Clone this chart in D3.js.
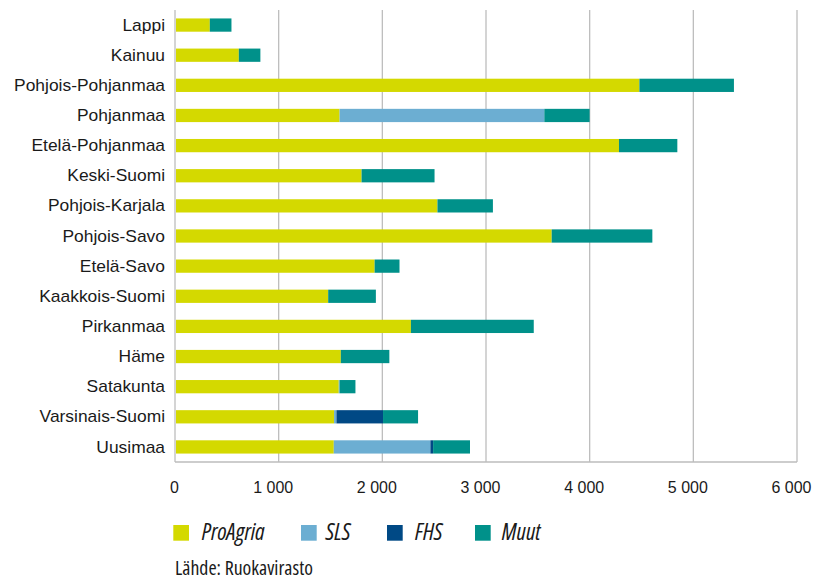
<!DOCTYPE html>
<html><head><meta charset="utf-8">
<script src="https://cdn.jsdelivr.net/npm/d3@7"></script>
<style>
body{margin:0;background:#fff;}
text{font-family:"Open Sans","DejaVu Sans Condensed",sans-serif;fill:#1a1a1a;}
</style></head>
<body><svg id="c" width="813" height="581"></svg>
<script>
const categories = ["Lappi","Kainuu","Pohjois-Pohjanmaa","Pohjanmaa","Etelä-Pohjanmaa","Keski-Suomi","Pohjois-Karjala","Pohjois-Savo","Etelä-Savo","Kaakkois-Suomi","Pirkanmaa","Häme","Satakunta","Varsinais-Suomi","Uusimaa"];
const seriesNames = ["ProAgria","SLS","FHS","Muut"];
const proAgria = [326,606,4470,1578,4273,1790,2522,3624,1916,1468,2266,1590,1570,1525,1522];
const sls      = [0,0,0,1975,0,0,0,0,0,0,0,0,8,23,932];
const fhs      = [0,0,0,0,0,0,0,0,0,0,0,0,0,449,26];
const muut     = [209,208,912,437,563,704,535,971,240,460,1185,468,153,338,356];
const tickValues = [0,1000,2000,3000,4000,5000,6000];
const sourceText = "Lähde: Ruokavirasto";
const colors = ["#d4d900","#6caed2","#004985","#00918a"];

const svg = d3.select("#c");
const pL=175, pR=797, pT=10, pB=462;
const x = d3.scaleLinear().domain([0,6000]).range([pL,pR]);
const y = d3.scaleBand().domain(categories).range([pT,pB]).paddingInner(0.56).paddingOuter(0.28);

function fit(sel, target, base){
  sel.attr("font-size",base);
  const w = sel.node().getComputedTextLength();
  return base*target/w;
}

const data = categories.map((c,i)=>({cat:c, ProAgria:proAgria[i], SLS:sls[i], FHS:fhs[i], Muut:muut[i]}));
const stacked = d3.stack().keys(seriesNames)(data);

// grid
svg.append("g").selectAll("line").data(tickValues.slice(1)).join("line")
  .attr("x1",d=>x(d)).attr("x2",d=>x(d)).attr("y1",pT).attr("y2",pB)
  .attr("stroke","#bdbdbd").attr("stroke-width",1.3);
svg.append("line").attr("x1",pL).attr("x2",pL).attr("y1",pT).attr("y2",pB).attr("stroke","#bdbdbd").attr("stroke-width",1.3);
svg.append("line").attr("x1",pL).attr("x2",pR).attr("y1",pB).attr("y2",pB).attr("stroke","#bdbdbd").attr("stroke-width",1.3);

// bars
svg.append("g").selectAll("g").data(stacked).join("g")
  .attr("fill",(d,i)=>colors[i])
  .selectAll("rect").data(d=>d).join("rect")
  .attr("x",d=>x(d[0])+1).attr("width",d=>Math.max(0,x(d[1])-x(d[0])))
  .attr("y",d=>y(d.data.cat)).attr("height",y.bandwidth());

// x axis
const xAxis = d3.axisBottom(x).tickValues(tickValues).tickSize(0).tickPadding(0)
  .tickFormat(d=>d3.format(",")(d).replace(/,/g," "));
const gx = svg.append("g").attr("transform",`translate(0,${pB})`).call(xAxis);
gx.select(".domain").remove();
const xt = gx.selectAll("text").attr("dy",null).attr("y",31)
  .style("font-family","inherit").style("font-stretch","75%");
const xfs = fit(gx.selectAll("text").filter(d=>d===6000), 40, 20);
xt.attr("font-size",xfs).attr("dx",d=>d===0?-1:-6);

// y axis
const yAxis = d3.axisLeft(y).tickSize(0).tickPadding(10);
const gy = svg.append("g").attr("transform",`translate(${pL},0)`).call(yAxis);
gy.select(".domain").remove();
const yt = gy.selectAll("text").style("font-family","inherit");
const yfs = fit(gy.selectAll("text").filter(d=>d==="Pohjois-Pohjanmaa"), 151, 16);
yt.attr("font-size",yfs);

// legend
const legBox = [173.3,301,387,475];
const legTxt = [201.7,325.7,415,501.7];
const leg = svg.append("g").selectAll("g").data(seriesNames).join("g");
leg.append("rect").attr("x",(d,i)=>legBox[i]).attr("y",525).attr("width",15.7).attr("height",15.7).attr("fill",(d,i)=>colors[i]);
const lt = leg.append("text").attr("x",(d,i)=>legTxt[i]).attr("y",540)
  .attr("font-style","italic").style("font-stretch","75%").text(d=>d);
const lfs = fit(lt.filter(d=>d==="ProAgria"), 63, 20);
lt.attr("font-size",lfs);

const src = svg.append("text").attr("x",175).attr("y",575).style("font-stretch","87.5%").text(sourceText);
src.attr("font-size",fit(src,138,16));
</script></body></html>
